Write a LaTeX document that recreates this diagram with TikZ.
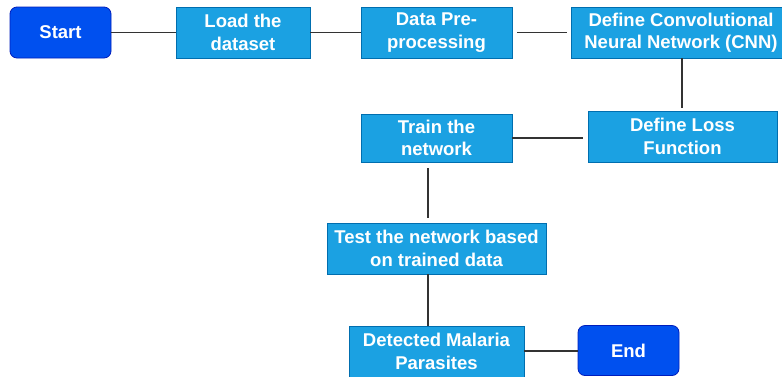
\documentclass[tikz,border=0pt]{standalone}
\usepackage{fontspec}
\setmainfont{Liberation Sans}
\usetikzlibrary{calc}
\definecolor{lblue}{HTML}{1BA1E2}
\definecolor{lbord}{HTML}{006EAF}
\definecolor{dblue}{HTML}{0050EF}
\definecolor{dbord}{HTML}{001DBC}
\definecolor{conn}{HTML}{333333}
\tikzset{
  box/.style={rectangle, draw=lbord, fill=lblue, line width=0.8pt, text=white,
    font=\bfseries\fontsize{18.5}{22.5}\selectfont, align=center, inner sep=0pt},
  term/.style={box, draw=dbord, fill=dblue, rounded corners=7pt},
  link/.style={draw=conn, line width=1.4pt}
}
\begin{document}
\begin{tikzpicture}[x=1pt, y=-1pt]
\clip (0,0) rectangle (782,376);
\fill[white] (0,0) rectangle (782,376);
\node[term, minimum width=101pt, minimum height=51pt] (start) at (60.5,32.5) {Start};
\node[box, minimum width=134pt, minimum height=51pt] (load) at (243,32.5) {Load the\\dataset};
\node[box, minimum width=151pt, minimum height=51pt] (pre) at (436.5,32.5) {Data Pre-\\processing};
\node[box, minimum width=220pt, minimum height=51pt] (cnn) at (681,32.5) {Define Convolutional\\Neural Network (CNN)};
\node[box, minimum width=189pt, minimum height=51pt] (loss) at (682.5,136.5) {Define Loss\\Function};
\node[box, minimum width=151pt, minimum height=48pt] (train) at (436.5,138) {Train the\\network};
\node[box, minimum width=219pt, minimum height=51pt] (test) at (436.5,248.5) {Test the network based\\on trained data};
\node[box, minimum width=175pt, minimum height=51pt] (det) at (436.5,351.5) {Detected Malaria\\Parasites};
\node[term, minimum width=101pt, minimum height=50pt] (end) at (628.5,350.5) {End};

\draw[link] (start.east) -- (load.west);
\draw[link] (load.east) -- (pre.west);
\draw[link] ($(pre.east)+(5,0)$) -- ($(cnn.west)+(-4,0)$);
\draw[link] ($(cnn.south)+(1,0)$) -- ($(loss.north)+(-0.5,-3)$);
\draw[link] ($(loss.west)+(-5,1.5)$) -- ($(train.east)+(0,0)$);
\draw[link] ($(train.south)+(-8.5,6)$) -- ($(test.north)+(-8.5,-5)$);
\draw[link] ($(test.south)+(-8.5,0)$) -- ($(det.north)+(-8.5,0)$);
\draw[link] ($(det.east)+(0,-0.5)$) -- ($(end.west)+(0,0.5)$);
\end{tikzpicture}
\end{document}
